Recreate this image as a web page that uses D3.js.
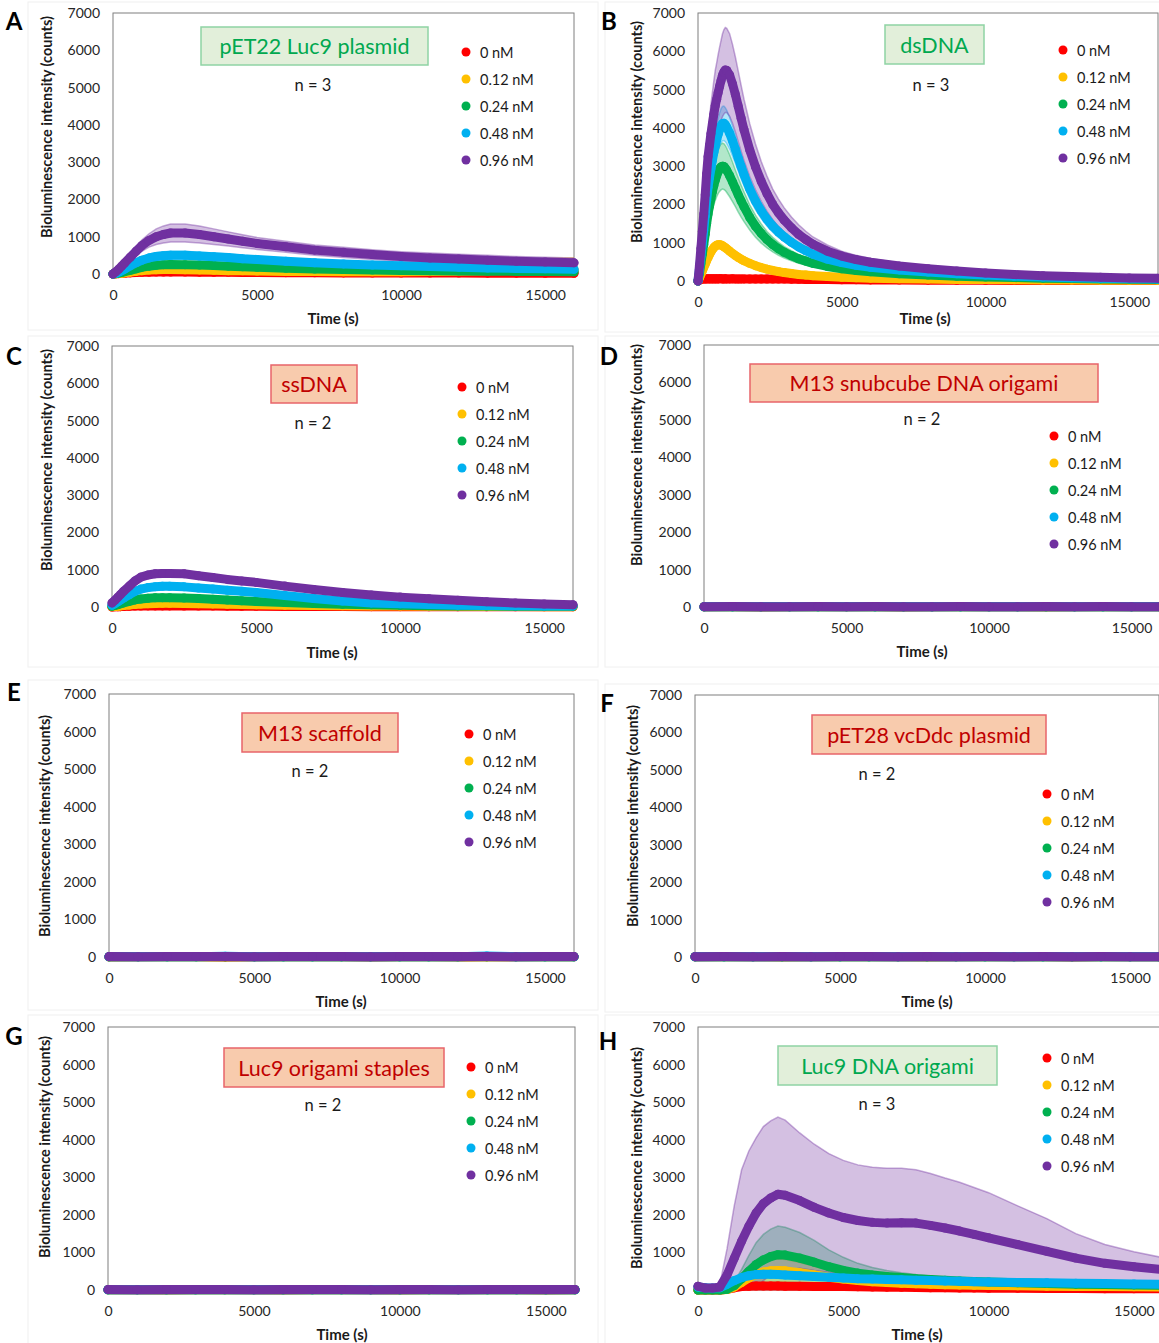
<!DOCTYPE html>
<html>
<head>
<meta charset="utf-8">
<script src="https://cdn.jsdelivr.net/npm/d3@7"></script>
<style>
  body { margin: 0; background: #fff; }
  svg { display: block; }
  text { font-family: Lato, "Open Sans", sans-serif; }
</style>
</head>
<body>
<svg id="chart" width="1159" height="1343"></svg>
<script>
// ---- shared labels and ticks ----
const concentrations = ["0 nM", "0.12 nM", "0.24 nM", "0.48 nM", "0.96 nM"];
const yTicks = [0, 1000, 2000, 3000, 4000, 5000, 6000, 7000];
const xTicks = [0, 5000, 10000, 15000];
const yTitle = "Bioluminescence intensity (counts)";
const xTitle = "Time (s)";

// ---- A: pET22 Luc9 plasmid (mean and SD, counts) ----
const timeA = [0,100,200,300,400,600,800,1000,1250,1500,
  1750,2000,2500,3000,3500,4000,4500,5000,6000,7000,
  8000,9000,10000,11000,12000,13000,14000,15000,16000];
const meanA = [
  [0,5,10,15,20,30,40,45,50,55, 55,55,52,50,47,45,42,40,36,33, 30,28,26,25,24,23,22,21,20],
  [0,5,12,20,30,50,70,90,105,115, 120,120,115,110,100,90,85,80,70,65, 60,60,60,65,75,85,95,105,115],
  [0,10,25,40,60,100,140,180,210,235, 250,255,250,240,225,210,195,180,155,135, 120,105,95,85,80,75,70,65,60],
  [0,20,50,90,130,220,300,370,430,470, 490,500,500,480,460,440,410,390,340,300, 270,240,220,200,180,160,150,140,130],
  [0,60,130,210,290,450,610,760,900,1000, 1060,1100,1100,1060,1000,940,880,820,730,640, 580,520,470,430,400,370,340,320,300]
];
const errA = [
  null,
  [0,5,10,15,20,30,40,50,55,60, 60,60,60,60,60,60,60,60,60,70, 80,100,130,170,220,260,290,310,320],
  [0,5,10,15,20,30,40,50,60,70, 75,80,80,75,70,65,60,55,50,45, 40,40,40,40,40,40,40,40,40],
  [0,10,20,30,40,60,80,90,100,110, 110,110,110,105,100,95,90,85,80,75, 70,65,60,60,55,55,50,50,50],
  [0,15,30,45,60,90,120,150,180,210, 230,240,240,230,210,190,175,160,150,140, 135,130,130,130,130,130,130,130,130]
];

// ---- B: dsDNA ----
const timeB = [0,50,100,150,200,250,300,350,400,450,
  500,550,600,650,700,750,800,850,900,950,
  1000,1100,1200,1300,1400,1500,1600,
  1800,2000,2200,2400,2600,2800,3000,
  3250,3500,3750,4000,4500,5000,5500,6000,
  7000,8000,9000,10000,11000,12000,13000,14000,15000,16000];
const meanB = [
  [0,30,45,50,52,55,54,56,55,57, 55,56,54,56,55,57,56,55,54,56,
   55,54,56,55,53,55,54, 53,52,53,51,52,50,51, 48,45,42,40,36,32,30,28, 25,22,20,18,16,15,14,13,12,11],
  [0,80,170,260,350,440,530,610,690,760, 820,870,910,935,950,950,940,920,895,870,
   840,780,720,665,615,570,530, 460,400,350,310,275,245,220, 195,172,155,140,115,98,85,75, 60,50,42,36,31,27,24,22,20,18],
  [0,200,450,700,950,1220,1500,1750,1960,2150, 2330,2490,2630,2750,2850,2930,2980,3000,2990,2950,
   2890,2750,2590,2420,2250,2090,1940, 1660,1430,1240,1080,950,840,750, 660,580,520,460,380,320,275,240, 190,155,125,105,90,75,65,55,48,42],
  [0,300,640,980,1320,1700,2100,2450,2700,2930, 3150,3350,3530,3690,3830,3950,4050,4110,4120,4080,
   4020,3860,3660,3440,3210,2990,2780, 2400,2090,1830,1610,1430,1280,1150, 1010,890,790,700,570,480,410,360, 290,235,190,155,125,105,85,70,60,50],
  [0,400,850,1300,1750,2250,2800,3250,3550,3850, 4100,4350,4580,4750,4920,5080,5230,5370,5460,5510,
   5500,5380,5150,4870,4560,4250,3950, 3420,2980,2600,2280,2000,1780,1590, 1390,1220,1080,960,780,650,560,490, 390,320,260,210,170,140,115,95,80,70]
];
const errB = [
  null,
  null,
  [0,40,90,140,190,240,300,350,390,430, 470,500,530,550,570,590,600,600,600,590,
   580,550,520,480,450,420,390, 330,290,250,215,190,170,150, 130,115,105,90,75,65,55,48, 38,30,25,21,18,15,13,11,10,8],
  [0,30,70,110,150,190,230,270,300,320, 350,370,390,410,420,435,445,450,450,445,
   440,420,400,380,350,330,300, 260,230,200,175,155,140,125, 110,95,85,75,60,50,45,40, 30,25,20,17,14,12,10,8,7,6],
  [0,80,170,260,350,450,560,650,710,770, 820,870,920,950,990,1020,1050,1080,1100,1110,
   1100,1080,1030,980,920,860,800, 690,600,520,460,400,360,320, 280,250,220,190,160,130,110,100, 80,65,55,45,35,30,25,20,20,15]
];

// ---- C: ssDNA ----
const timeC = [0,100,200,300,400,600,800,1000,1250,1500,
  1750,2000,2500,3000,3500,4000,4500,5000,6000,7000,
  8000,9000,10000,11000,12000,13000,14000,15000,16000];
const meanC = [
  [0,5,8,10,15,20,25,28,30,30, 30,30,28,26,24,22,20,18,16,14, 12,10,9,8,7,6,5,5,5],
  [10,15,20,30,40,55,70,80,90,95, 100,100,95,90,82,75,68,60,50,42, 35,30,25,20,18,15,12,10,10],
  [20,40,60,85,110,150,190,215,235,245, 250,250,240,225,205,185,165,150,120,95, 75,60,45,35,30,25,20,20,20],
  [50,90,140,190,240,330,420,480,520,545, 555,555,540,510,480,450,420,390,310,230, 160,110,85,65,50,40,35,30,30],
  [110,180,260,340,420,560,700,800,860,890, 900,900,890,840,790,740,700,660,560,470, 390,320,265,220,180,140,105,80,60]
];
const errC = [null, null, null, null, null];

// ---- D to G: constructs without signal ----
const timeD = [0,1000,2000,3000,4000,5000,6000,7000,8000,9000,10000,11000,12000,13000,14000,15000,16000];
const meanD = [
  [4,6,3,5,4,6,5,3,4,6,5,4,3,5,4,6,5],
  [6,4,5,7,5,4,6,5,7,4,5,6,4,5,6,4,5],
  [5,7,6,4,6,5,7,6,5,7,6,5,7,6,5,7,6],
  [7,5,8,6,7,9,6,8,7,6,8,7,9,6,8,7,6],
  [9,11,8,10,12,9,11,10,8,12,10,9,11,10,12,9,10]
];
const timeE = [0,1000,2000,3000,4000,5000,6000,7000,8000,9000,10000,11000,12000,13000,14000,15000,16000];
const meanE = [
  [3,5,4,6,3,5,4,5,6,3,4,5,3,6,4,5,4],
  [5,6,4,5,7,5,6,4,5,7,5,6,4,5,6,5,4],
  [6,4,7,5,6,8,5,7,6,5,7,6,8,5,6,7,5],
  [8,6,7,9,22,7,8,6,9,7,8,6,9,26,7,8,6],
  [10,9,12,10,11,9,12,11,10,9,12,10,11,12,9,10,11]
];
const timeF = [0,1000,2000,3000,4000,5000,6000,7000,8000,9000,10000,11000,12000,13000,14000,15000,16000];
const meanF = [
  [5,4,6,3,5,4,6,5,3,4,6,5,4,3,5,4,6],
  [4,6,5,4,6,5,4,7,5,6,4,5,7,5,4,6,5],
  [6,5,7,6,5,7,6,5,7,6,5,7,6,5,7,6,5],
  [7,8,6,9,7,6,8,7,9,6,8,7,6,9,7,8,7],
  [10,12,9,11,10,13,11,9,12,10,11,9,12,10,11,10,9]
];
const timeG = [0,1000,2000,3000,4000,5000,6000,7000,8000,9000,10000,11000,12000,13000,14000,15000,16000];
const meanG = [
  [4,5,3,6,4,5,3,4,6,5,3,4,5,6,4,3,5],
  [5,4,6,5,7,4,5,6,4,5,7,5,4,6,5,4,6],
  [6,7,5,6,5,7,6,5,6,7,5,6,7,5,6,7,6],
  [7,6,8,7,9,6,7,8,6,8,7,9,6,7,8,6,7],
  [10,9,11,12,10,9,11,10,12,9,10,11,9,12,10,11,10]
];

// ---- H: Luc9 DNA origami ----
const timeH = [0,250,500,750,1000,1250,1500,1750,2000,2250,
  2500,2750,3000,3500,4000,4500,5000,5500,6000,6500,
  7000,7500,8000,8500,9000,9500,10000,11000,12000,13000,
  14000,15000,16000];
const meanH = [
  [0,0,0,0,20,60,90,100,105,105, 105,105,100,100,95,92,90,85,80,75, 70,65,60,57,54,51,48,44,40,37, 34,32,30],
  [0,0,0,0,10,80,200,320,420,480, 510,520,510,460,400,340,290,250,220,200, 180,165,150,140,130,125,120,110,100,95, 90,85,80],
  [0,0,0,0,20,120,300,500,680,800, 890,940,930,850,740,620,520,450,400,360, 330,300,280,260,240,225,210,190,170,155, 145,135,125],
  [80,60,50,60,150,250,330,380,410,420, 420,410,400,380,360,340,320,300,290,280, 270,260,250,240,230,220,210,200,190,180, 170,160,150],
  [100,50,50,80,400,850,1300,1700,2050,2300, 2450,2550,2520,2380,2200,2050,1930,1850,1800,1780, 1790,1780,1720,1650,1570,1480,1390,1210,1030,850, 710,620,540]
];
const errH = [
  null,
  [0,0,0,0,10,60,150,220,270,300, 310,310,300,270,230,190,160,130,110,100, 90,80,75,70,65,60,60,55,50,50, 45,45,40],
  [0,0,0,0,10,100,250,420,580,680, 730,760,740,680,580,450,350,260,200,160, 130,110,90,80,75,70,65,60,55,50, 50,45,45],
  [20,15,15,20,40,60,80,90,95,100, 100,100,95,90,85,80,75,70,70,65, 65,60,60,55,55,50,50,50,45,45, 45,40,40],
  [30,20,20,60,700,1400,1900,2000,2000,2050, 2050,2050,2000,1800,1680,1580,1520,1480,1470,1460, 1450,1420,1380,1330,1300,1250,1200,1030,870,650, 500,400,320]
];

// ---- styling ----
const seriesColors = ["#ff0000", "#ffc000", "#00b050", "#00b0f0", "#7030a0"];
const boxStyles = {
  active:   { fill: "#e2efda", stroke: "#8fd3a4", text: "#00a84f" },
  inactive: { fill: "#f8cbad", stroke: "#e8646a", text: "#c00000" }
};

// ---- panel layout ----
const panels = [
  { letter: "A", title: "pET22 Luc9 plasmid", kind: "active", n: 3, time: timeA, mean: meanA, err: errA,
    frame: { x0: 113, x1: 574, top: 13, bottom: 274 }, box: { x: 201, y: 27, w: 227, h: 38 },
    nAt: [313, 85], legendAt: [466, 52], letterAt: [14, 20], yTitleAt: [46, 127], xTitleAt: [333, 318],
    outline: [28, 2, 570, 328] },
  { letter: "B", title: "dsDNA", kind: "active", n: 3, time: timeB, mean: meanB, err: errB,
    frame: { x0: 698, x1: 1158, top: 13, bottom: 281 }, box: { x: 885, y: 25, w: 99, h: 39 },
    nAt: [931, 85], legendAt: [1063, 50], letterAt: [609, 20], yTitleAt: [636, 132], xTitleAt: [925, 318],
    outline: [605, 2, 560, 330] },
  { letter: "C", title: "ssDNA", kind: "inactive", n: 2, time: timeC, mean: meanC, err: errC,
    frame: { x0: 112, x1: 573, top: 346, bottom: 607 }, box: { x: 271, y: 365, w: 86, h: 38 },
    nAt: [313, 423], legendAt: [462, 387], letterAt: [14, 355], yTitleAt: [46, 460], xTitleAt: [332, 652],
    outline: [28, 336, 570, 331] },
  { letter: "D", title: "M13 snubcube DNA origami", kind: "inactive", n: 2, time: timeD, mean: meanD, err: null,
    frame: { x0: 704, x1: 1160, top: 345, bottom: 607 }, box: { x: 750, y: 364, w: 348, h: 38 },
    nAt: [922, 419], legendAt: [1054, 436], letterAt: [609, 355], yTitleAt: [636, 455], xTitleAt: [922, 651],
    outline: [605, 336, 560, 331] },
  { letter: "E", title: "M13 scaffold", kind: "inactive", n: 2, time: timeE, mean: meanE, err: null,
    frame: { x0: 109, x1: 574, top: 694, bottom: 957 }, box: { x: 242, y: 713, w: 156, h: 39 },
    nAt: [310, 771], legendAt: [469, 734], letterAt: [14, 691], yTitleAt: [44, 826], xTitleAt: [341, 1001],
    outline: [28, 680, 570, 330] },
  { letter: "F", title: "pET28 vcDdc plasmid", kind: "inactive", n: 2, time: timeF, mean: meanF, err: null,
    frame: { x0: 695, x1: 1159, top: 695, bottom: 957 }, box: { x: 812, y: 715, w: 234, h: 39 },
    nAt: [877, 774], legendAt: [1047, 794], letterAt: [607, 702], yTitleAt: [632, 816], xTitleAt: [927, 1001],
    outline: [605, 684, 560, 328] },
  { letter: "G", title: "Luc9 origami staples", kind: "inactive", n: 2, time: timeG, mean: meanG, err: null,
    frame: { x0: 108, x1: 575, top: 1027, bottom: 1290 }, box: { x: 224, y: 1048, w: 220, h: 39 },
    nAt: [323, 1105], legendAt: [471, 1067], letterAt: [14, 1035], yTitleAt: [44, 1147], xTitleAt: [342, 1334],
    outline: [28, 1015, 570, 330] },
  { letter: "H", title: "Luc9 DNA origami", kind: "active", n: 3, time: timeH, mean: meanH, err: errH,
    frame: { x0: 698, x1: 1163, top: 1027, bottom: 1290 }, box: { x: 778, y: 1046, w: 219, h: 39 },
    nAt: [877, 1104], legendAt: [1047, 1058], letterAt: [608, 1040], yTitleAt: [636, 1158], xTitleAt: [917, 1334],
    outline: [605, 1015, 560, 330] }
];

const svg = d3.select("#chart");
const defs = svg.append("defs");

panels.forEach(p => {
  const f = p.frame;
  const g = svg.append("g").attr("class", "panel panel-" + p.letter);
  const x = d3.scaleLinear().domain([0, 16000]).range([f.x0, f.x1]);
  const y = d3.scaleLinear().domain([0, 7000]).range([f.bottom, f.top]);

  // faint panel outline
  g.append("rect")
    .attr("x", p.outline[0]).attr("y", p.outline[1])
    .attr("width", p.outline[2]).attr("height", p.outline[3])
    .attr("fill", "none").attr("stroke", "#f0f0f0").attr("stroke-width", 1);

  // plot frame
  g.append("rect")
    .attr("x", f.x0).attr("y", f.top)
    .attr("width", f.x1 - f.x0).attr("height", f.bottom - f.top)
    .attr("fill", "#fff").attr("stroke", "#7f7f7f").attr("stroke-width", 1);

  // axes (labels only, Excel style)
  const yAxis = g.append("g").attr("transform", `translate(${f.x0},0)`)
    .call(d3.axisLeft(y).tickValues(yTicks).tickSize(0).tickPadding(13).tickFormat(d3.format("d")));
  const xAxis = g.append("g").attr("transform", `translate(0,${f.bottom})`)
    .call(d3.axisBottom(x).tickValues(xTicks).tickSize(0).tickPadding(16).tickFormat(d3.format("d")));
  [yAxis, xAxis].forEach(a => {
    a.select(".domain").remove();
    a.attr("font-family", "Lato, 'Open Sans', sans-serif").attr("font-size", 14);
    a.selectAll("text").attr("fill", "#262626");
  });

  // axis titles
  g.append("text")
    .attr("transform", `translate(${p.yTitleAt[0]},${p.yTitleAt[1]}) rotate(-90)`)
    .attr("text-anchor", "middle").attr("dominant-baseline", "central")
    .attr("font-size", 14.5).attr("font-weight", 700).attr("fill", "#1a1a1a")
    .text(yTitle);
  g.append("text")
    .attr("x", p.xTitleAt[0]).attr("y", p.xTitleAt[1])
    .attr("text-anchor", "middle").attr("dominant-baseline", "central")
    .attr("font-size", 15).attr("font-weight", 700).attr("fill", "#1a1a1a")
    .text(xTitle);

  // panel letter
  g.append("text")
    .attr("x", p.letterAt[0]).attr("y", p.letterAt[1])
    .attr("text-anchor", "middle").attr("dominant-baseline", "central")
    .attr("font-family", "'Liberation Sans', Arial, sans-serif")
    .attr("font-size", 24).attr("font-weight", 700).attr("fill", "#000")
    .text(p.letter);

  // error bands, clipped to the plot area
  const clipId = "clip-" + p.letter;
  defs.append("clipPath").attr("id", clipId)
    .append("rect").attr("x", f.x0).attr("y", f.top)
    .attr("width", f.x1 - f.x0).attr("height", f.bottom - f.top);
  const bands = g.append("g").attr("clip-path", `url(#${clipId})`);
  if (p.err) {
    p.err.forEach((e, si) => {
      if (!e) return;
      const rows = p.time.map((t, i) => ({ t, lo: p.mean[si][i] - e[i], hi: p.mean[si][i] + e[i] }));
      bands.append("path").datum(rows)
        .attr("d", d3.area().x(d => x(d.t)).y0(d => y(d.lo)).y1(d => y(d.hi)))
        .attr("fill", seriesColors[si]).attr("fill-opacity", 0.3);
      ["hi", "lo"].forEach(k => {
        bands.append("path").datum(rows)
          .attr("d", d3.line().x(d => x(d.t)).y(d => y(d[k])))
          .attr("fill", "none").attr("stroke", seriesColors[si])
          .attr("stroke-opacity", 0.4).attr("stroke-width", 1.5);
      });
    });
  }

  // data markers: dense scatter drawn as a thick trace plus the points
  p.mean.forEach((vals, si) => {
    const rows = p.time.map((t, i) => ({ t, v: vals[i] }));
    const sg = g.append("g").attr("class", "series");
    sg.append("path").datum(rows)
      .attr("d", d3.line().x(d => x(d.t)).y(d => y(d.v)))
      .attr("fill", "none").attr("stroke", seriesColors[si])
      .attr("stroke-width", 9).attr("stroke-linecap", "round").attr("stroke-linejoin", "round");
    sg.selectAll("circle").data(rows).join("circle")
      .attr("cx", d => x(d.t)).attr("cy", d => y(d.v)).attr("r", 4.5)
      .attr("fill", seriesColors[si]);
  });

  // title box
  const bs = boxStyles[p.kind];
  g.append("rect")
    .attr("x", p.box.x).attr("y", p.box.y).attr("width", p.box.w).attr("height", p.box.h)
    .attr("fill", bs.fill).attr("stroke", bs.stroke).attr("stroke-width", 1.5);
  g.append("text")
    .attr("x", p.box.x + p.box.w / 2).attr("y", p.box.y + p.box.h / 2)
    .attr("text-anchor", "middle").attr("dominant-baseline", "central")
    .attr("font-size", 21.5).attr("fill", bs.text)
    .text(p.title);

  // replicate count
  g.append("text")
    .attr("x", p.nAt[0]).attr("y", p.nAt[1])
    .attr("text-anchor", "middle").attr("dominant-baseline", "central")
    .attr("font-size", 16.5).attr("fill", "#1a1a1a")
    .text(`n = ${p.n}`);

  // legend
  const lg = g.append("g");
  concentrations.forEach((c, i) => {
    const ly = p.legendAt[1] + i * 27;
    lg.append("circle").attr("cx", p.legendAt[0]).attr("cy", ly).attr("r", 4.5).attr("fill", seriesColors[i]);
    lg.append("text").attr("x", p.legendAt[0] + 14).attr("y", ly)
      .attr("dominant-baseline", "central").attr("font-size", 14.5).attr("fill", "#1a1a1a")
      .text(c);
  });
});
</script>
</body>
</html>
